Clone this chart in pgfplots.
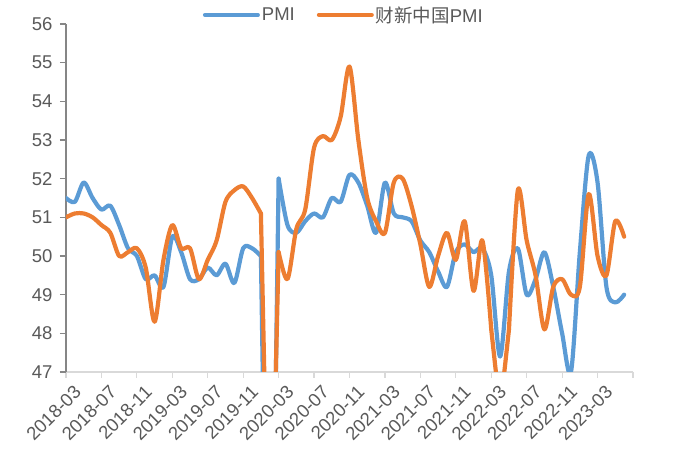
\documentclass[border=0pt]{standalone}
\usepackage{fontspec}
\setmainfont{Liberation Sans}
\newfontfamily\cjk{Noto Sans CJK SC}
\usepackage{pgfplots}
\pgfplotsset{compat=1.18}
\definecolor{pmiblue}{HTML}{5B9BD5}
\definecolor{cxorange}{HTML}{ED7D31}
\definecolor{txtgray}{HTML}{595959}
\definecolor{ygray}{HTML}{868686}
\definecolor{xgray}{HTML}{D9D9D9}
\begin{document}
\begin{tikzpicture}
\begin{axis}[
  scale only axis,
  width=567pt, height=348pt,
  xmin=0, xmax=64, ymin=47, ymax=56,
  axis x line*=bottom, axis y line*=left,
  x axis line style={draw=xgray, line width=1.2pt},
  y axis line style={draw=ygray, line width=1.2pt},
  xtick={0,4,...,64},
  xticklabels={2018-03,2018-07,2018-11,2019-03,2019-07,2019-11,2020-03,2020-07,2020-11,2021-03,2021-07,2021-11,2022-03,2022-07,2022-11,2023-03,{}},
  ytick={47,48,...,56},
  tick align=outside,
  major tick length=6pt,
  x tick style={draw=xgray, line width=1.2pt},
  y tick style={draw=ygray, line width=1.2pt},
  tick label style={font=\fontsize{18.5}{19}\selectfont, text=txtgray},
  /pgf/number format/assume math mode=true,
  x tick label style={rotate=45, anchor=north east, xshift=4pt, yshift=-6pt},
  yticklabel style={xshift=-4pt},
  legend style={at={(0.49,1.026)}, anchor=center, draw=none, fill=none,
    font=\fontsize{18.5}{19}\selectfont, text=txtgray, legend columns=2,
    /tikz/every even column/.append style={column sep=20pt}},
  legend image code/.code={\draw[#1, line width=4pt, line cap=round] (0pt,0pt) -- (53pt,0pt);},
  every axis plot/.append style={line width=4.2pt, line join=round, line cap=round},
  clip=true,
]
% PMI
\addplot[pmiblue, smooth, tension=0.5] coordinates {
(0,51.5)(1,51.4)(2,51.9)(3,51.5)(4,51.2)(5,51.3)(6,50.8)(7,50.2)(8,50.0)(9,49.4)
(10,49.5)(11,49.2)(12,50.5)(13,50.1)(14,49.4)(15,49.4)(16,49.7)(17,49.5)(18,49.8)(19,49.3)(20,50.2)(21,50.2)
(22,50.0)
};
\addlegendentry{PMI}
\addplot[pmiblue, forget plot] coordinates {(22,50.0)(23,35.7)(24,52.0)};
\addplot[pmiblue, smooth, tension=0.5, forget plot] coordinates {
(24,52.0)(25,50.8)(26,50.6)(27,50.9)(28,51.1)(29,51.0)(30,51.5)(31,51.4)(32,52.1)(33,51.9)
(34,51.3)(35,50.6)(36,51.9)(37,51.1)(38,51.0)(39,50.9)(40,50.4)(41,50.1)(42,49.6)(43,49.2)(44,50.1)(45,50.3)
(46,50.1)(47,50.2)(48,49.5)(49,47.4)(50,49.6)(51,50.2)(52,49.0)(53,49.4)(54,50.1)(55,49.2)(56,48.0)(57,47.0)
(58,50.1)(59,52.6)(60,51.9)(61,49.2)(62,48.8)(63,49.0)
};
% Caixin
\addplot[cxorange, smooth, tension=0.5] coordinates {
(0,51.0)(1,51.1)(2,51.1)(3,51.0)(4,50.8)(5,50.6)(6,50.0)(7,50.1)(8,50.2)(9,49.7)
(10,48.3)(11,49.9)(12,50.8)(13,50.2)(14,50.2)(15,49.4)(16,49.9)(17,50.4)(18,51.4)(19,51.7)(20,51.8)(21,51.5)
(22,51.1)
};
\addlegendentry{{\cjk 财新中国}PMI}
\addplot[cxorange, forget plot] coordinates {(22,51.1)(23,40.3)(24,50.1)};
\addplot[cxorange, smooth, tension=0.5, forget plot] coordinates {
(24,50.1)(25,49.4)(26,50.7)(27,51.2)(28,52.8)(29,53.1)(30,53.0)(31,53.6)(32,54.9)(33,53.0)
(34,51.5)(35,50.9)(36,50.6)(37,51.9)(38,52.0)(39,51.3)(40,50.3)(41,49.2)(42,50.0)(43,50.6)(44,49.9)(45,50.9)
(46,49.1)(47,50.4)(48,48.1)
};
\addplot[cxorange, forget plot] coordinates {(48,48.1)(49,46.0)(50,48.1)};
\addplot[cxorange, smooth, tension=0.5, forget plot] coordinates {
(50,48.1)(51,51.7)(52,50.4)(53,49.5)(54,48.1)(55,49.2)(56,49.4)(57,49.0)
(58,49.2)(59,51.6)(60,50.0)(61,49.5)(62,50.9)(63,50.5)
};
\end{axis}
\pgfresetboundingbox
\path[use as bounding box] ([xshift=-66pt,yshift=-85pt]current axis.south west) rectangle ([xshift=40pt,yshift=24pt]current axis.north east);
\end{tikzpicture}
\end{document}
